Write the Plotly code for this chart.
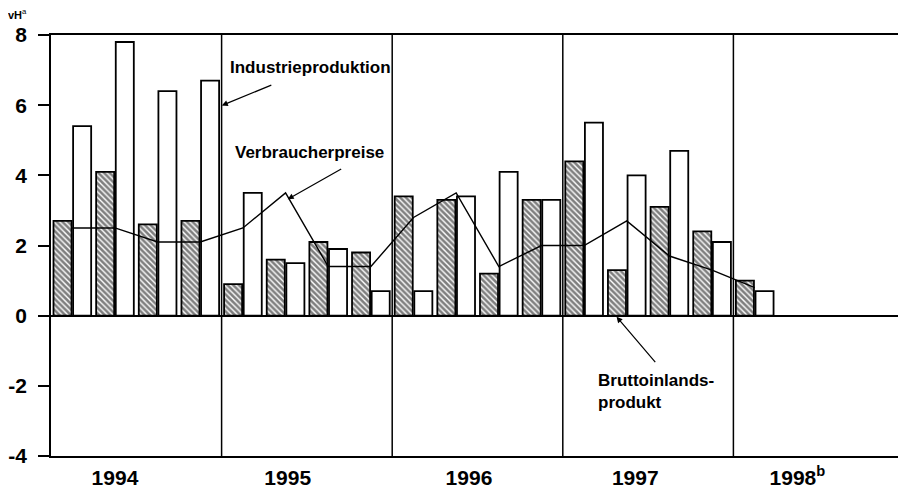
import plotly.graph_objects as go

# Quarterly data, 1994 Q1 .. 1998 Q1 (vH, change vs. previous year)
quarters = ["1994 Q1", "1994 Q2", "1994 Q3", "1994 Q4",
            "1995 Q1", "1995 Q2", "1995 Q3", "1995 Q4",
            "1996 Q1", "1996 Q2", "1996 Q3", "1996 Q4",
            "1997 Q1", "1997 Q2", "1997 Q3", "1997 Q4",
            "1998 Q1"]
bip = [2.7, 4.1, 2.6, 2.7,
       0.9, 1.6, 2.1, 1.8,
       3.4, 3.3, 1.2, 3.3,
       4.4, 1.3, 3.1, 2.4,
       1.0]
industrie = [5.4, 7.8, 6.4, 6.7,
             3.5, 1.5, 1.9, 0.7,
             0.7, 3.4, 4.1, 3.3,
             5.5, 4.0, 4.7, 2.1,
             0.7]
verbraucher = [2.5, 2.5, 2.1, 2.1,
               2.5, 3.5, 1.4, 1.4,
               2.8, 3.5, 1.4, 2.0,
               2.0, 2.7, 1.7, 1.3,
               0.8]
year_labels = ["1994", "1995", "1996", "1997", "1998<sup>b</sup>"]
year_label_pos = [1.0, 5.05, 9.3, 13.2, 17.0]
y_ticks = [-4, -2, 0, 2, 4, 6, 8]
y_tick_text = ["-4", "-2", "0", "2", "4", "6", "8"]

xs = list(range(len(quarters)))
FONT = "Liberation Sans, Arial, sans-serif"

fig = go.Figure()
fig.add_trace(go.Bar(
    x=xs, y=bip, name="Bruttoinlandsprodukt",
    marker=dict(color="white", line=dict(color="black", width=1.8),
                pattern=dict(shape="\\", fgcolor="black", bgcolor="white",
                             size=4, solidity=0.65)),
))
fig.add_trace(go.Bar(
    x=xs, y=industrie, name="Industrieproduktion",
    marker=dict(color="white", line=dict(color="black", width=1.8)),
))
fig.add_trace(go.Scatter(
    x=xs, y=verbraucher, name="Verbraucherpreise", mode="lines",
    line=dict(color="black", width=1.4),
))

# year separators
for b in [3.5, 7.5, 11.5, 15.5]:
    fig.add_shape(type="line", x0=b, x1=b, y0=0, y1=1, xref="x", yref="paper",
                  line=dict(color="black", width=1.5))

ann = [
    dict(x=3.645, y=7.06, text="<b>Industrieproduktion</b>", showarrow=False,
         xanchor="left", yanchor="middle"),
    dict(x=3.505, y=5.99, text="", showarrow=True, arrowhead=2, arrowsize=1,
         arrowwidth=1.2, ax=51, ay=-21),
    dict(x=3.76, y=4.65, text="<b>Verbraucherpreise</b>", showarrow=False,
         xanchor="left", yanchor="middle"),
    dict(x=5.05, y=3.32, text="", showarrow=True, arrowhead=2, arrowsize=1,
         arrowwidth=1.2, ax=55, ay=-31),
    dict(x=12.29, y=-2.16, text="<b>Bruttoinlands-<br>produkt</b>", showarrow=False,
         xanchor="left", yanchor="middle", align="left"),
    dict(x=12.76, y=-0.03, text="", showarrow=True, arrowhead=2, arrowsize=1,
         arrowwidth=1.2, ax=40, ay=47),
]
for a in ann:
    a.update(xref="x", yref="y", font=dict(family=FONT, size=17, color="black"),
             arrowcolor="black")
    fig.add_annotation(**a)

fig.add_annotation(xref="paper", yref="paper", x=-0.052, y=1.032,
                   text="<b>vH</b><sup>a</sup>", showarrow=False,
                   xanchor="left", yanchor="bottom", borderpad=0,
                   font=dict(family=FONT, size=11, color="black"))

# page body has an 8px default margin: size the figure so the plot area
# lands where the reference has it
fig.update_layout(
    width=898, height=482,
    margin=dict(l=43, r=2, t=27, b=34, autoexpand=False),
    paper_bgcolor="white", plot_bgcolor="white",
    barmode="group", bargap=0.08, bargroupgap=0.08,
    showlegend=False,
    font=dict(family=FONT, color="black"),
)
fig.update_xaxes(
    range=[-0.5, 19.5], showgrid=False, zeroline=False, automargin=False,
    showline=True, linecolor="black", linewidth=2, mirror=True,
    tickvals=year_label_pos, ticktext=["<b>%s</b>" % t for t in year_labels],
    ticks="",
    tickfont=dict(family=FONT, size=21, color="black"),
    ticklabelstandoff=2,
)
fig.update_yaxes(
    range=[-4, 8], showgrid=False, automargin=False,
    zeroline=True, zerolinecolor="black", zerolinewidth=2,
    showline=True, linecolor="black", linewidth=1.5, mirror=True,
    tickvals=y_ticks, ticktext=["<b>%s</b>" % t for t in y_tick_text],
    ticks="outside", ticklen=11,
    tickcolor="black", tickwidth=1.5,
    tickfont=dict(family=FONT, size=21, color="black"),
    ticklabelstandoff=7,
)

fig.write_html("out.html")
